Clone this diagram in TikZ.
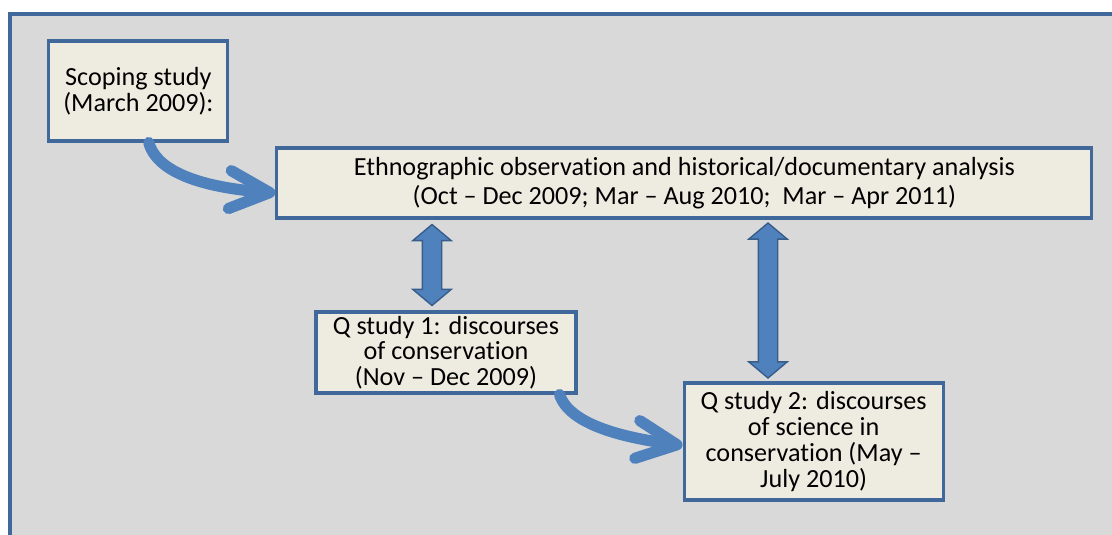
\documentclass[tikz,border=0pt]{standalone}
\usepackage{fontspec}
\setmainfont{Carlito}[Ligatures=NoCommon]
\usetikzlibrary{shapes.arrows,arrows.meta,positioning,calc}
\definecolor{bgGray}{HTML}{D9D9D9}
\definecolor{frameBlue}{HTML}{41689A}
\definecolor{boxFill}{HTML}{EEECE1}
\definecolor{arrBlue}{HTML}{4F81BD}
\definecolor{arrEdge}{HTML}{385D8A}
\newcommand{\boxfont}{\fontsize{18.6}{18.3}\selectfont\setlength{\lineskiplimit}{-20pt}}
\newcommand{\wideboxfont}{\fontsize{18.6}{20.6}\selectfont\setlength{\lineskiplimit}{-20pt}}

\begin{document}
\begin{tikzpicture}[
	box/.style={draw=frameBlue, line width=2.2pt, fill=boxFill, align=center,
		inner sep=0pt, font=\boxfont},
	widebox/.style={box, font=\wideboxfont},
	curvearr/.style={draw=arrBlue, line width=8pt, line cap=round,
		-{Straight Barb[length=1cm, width=0.95cm, round]}},
	dblarr/.style={draw=arrEdge, line width=1pt, fill=arrBlue, shape=double arrow,
		shape border rotate=90, inner sep=0.225cm, double arrow head extend=0.24cm,
		double arrow tip angle=100, minimum width=0.925cm}
	]
	% background panel
	\begin{scope}
		\clip (0,0) rectangle (27.8,13.35);
		\draw[draw=frameBlue, fill=bgGray, line width=2.5pt] (0.25,-1) rectangle (29,13.0);
	\end{scope}
	\useasboundingbox (0,0) rectangle (27.8,13.35);
	
	% boxes
	\node[box, minimum width=4.475cm, minimum height=2.5cm] (scoping) at (3.46,11.075)
	{Scoping study\\(March 2009):};
	\node[widebox, minimum width=20.375cm, minimum height=1.75cm] (ethno) at (17.11,8.775)
	{Ethnographic observation and historical/documentary analysis\\(Oct – Dec 2009; Mar – Aug 2010; \ Mar – Apr 2011)};
	\node[box, minimum width=6.5cm, minimum height=2.025cm] (qone) at (11.15,4.5375)
	{Q study 1: discourses\\of conservation\\(Nov – Dec 2009)};
	\node[box, minimum width=6.475cm, minimum height=2.925cm] (qtwo) at (20.34,2.3125)
	{Q study 2: discourses\\of science in\\conservation (May –\\July 2010)};
	
	% double arrows between boxes
	\coordinate (colA) at (10.8,0);
	\coordinate (colB) at (19.2,0);
	\node[dblarr, minimum height=2.025cm] (linkone)
	at ($(ethno.south -| colA)!0.5!(qone.north -| colA)$) {};
	\node[dblarr, minimum height=3.875cm] (linktwo)
	at ($(ethno.south -| colB)!0.5!(qtwo.north -| colB)$) {};
	
	% curved arrows
	\draw[curvearr] ([xshift=0.26cm]scoping.south) .. controls +(0.22,-0.82) and +(-1.6,0.12) .. ([yshift=-0.25cm]ethno.west);
	\draw[curvearr] ([xshift=-0.45cm]qone.south east) .. controls +(0.25,-0.75) and +(-1.5,0.2) .. ([yshift=-0.1cm]qtwo.west);
\end{tikzpicture}
\end{document}
